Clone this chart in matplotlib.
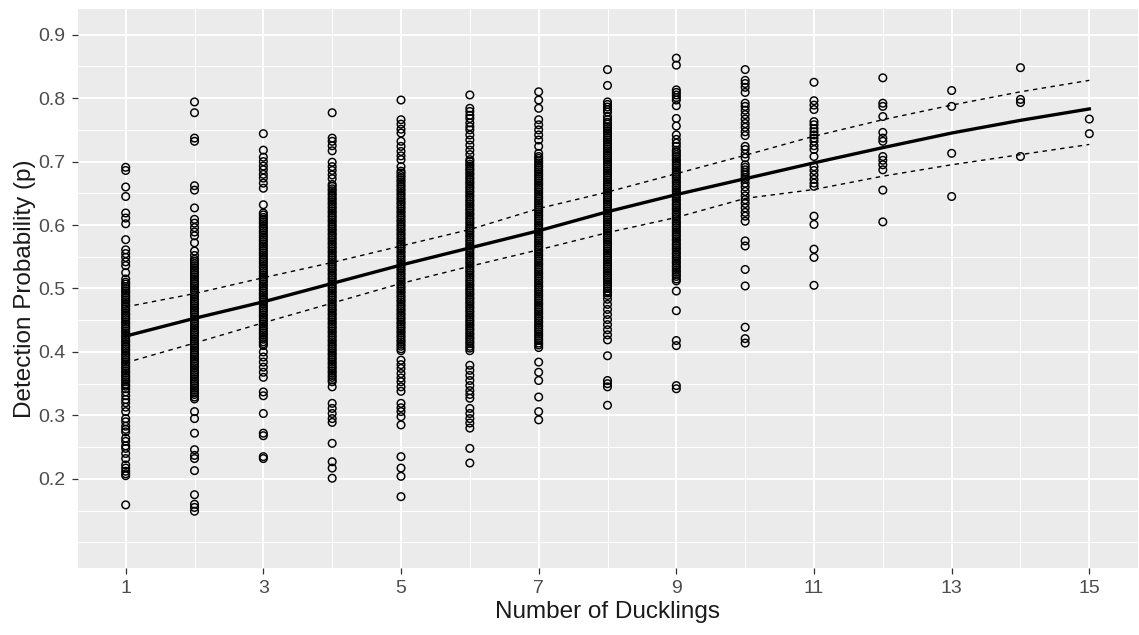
import numpy as np
import matplotlib
matplotlib.use("Agg")
import matplotlib.pyplot as plt
from matplotlib.ticker import FixedLocator

# ---------------- data ----------------
ducklings = [1, 2, 3, 4, 5, 6, 7, 8, 9, 10, 11, 12, 13, 14, 15]

p1 = [0.691, 0.686, 0.660, 0.645, 0.619, 0.611, 0.602, 0.577, 0.561, 0.555, 0.549, 0.542, 0.536, 0.525, 0.515,
      0.510, 0.507, 0.503, 0.500, 0.496, 0.493, 0.489, 0.486, 0.482, 0.479, 0.475, 0.472, 0.468, 0.465, 0.461,
      0.458, 0.454, 0.451, 0.447, 0.444, 0.440, 0.437, 0.433, 0.430, 0.426, 0.423, 0.419, 0.416, 0.412, 0.409,
      0.405, 0.402, 0.398, 0.395, 0.391, 0.388, 0.384, 0.381, 0.377, 0.374, 0.370, 0.367, 0.363, 0.360, 0.356,
      0.353, 0.349, 0.346, 0.342, 0.337, 0.331, 0.325, 0.320, 0.313, 0.306, 0.295, 0.290, 0.283, 0.278, 0.274,
      0.264, 0.259, 0.252, 0.248, 0.240, 0.232, 0.222, 0.217, 0.212, 0.208, 0.205, 0.159]

p2 = [0.794, 0.777, 0.737, 0.732, 0.662, 0.655, 0.627, 0.609, 0.603, 0.596, 0.589, 0.583, 0.572, 0.559, 0.552,
      0.546, 0.543, 0.539, 0.536, 0.532, 0.529, 0.525, 0.522, 0.518, 0.515, 0.511, 0.508, 0.504, 0.501, 0.497,
      0.494, 0.490, 0.487, 0.483, 0.480, 0.476, 0.473, 0.469, 0.466, 0.462, 0.459, 0.455, 0.452, 0.448, 0.445,
      0.441, 0.438, 0.434, 0.431, 0.427, 0.424, 0.420, 0.417, 0.413, 0.410, 0.406, 0.403, 0.399, 0.396, 0.392,
      0.389, 0.385, 0.382, 0.378, 0.375, 0.371, 0.368, 0.364, 0.361, 0.357, 0.354, 0.350, 0.347, 0.343, 0.340,
      0.336, 0.333, 0.329, 0.326, 0.306, 0.295, 0.272, 0.246, 0.237, 0.232, 0.213, 0.175, 0.160, 0.155, 0.149]

p3 = [0.744, 0.718, 0.707, 0.700, 0.693, 0.687, 0.680, 0.674, 0.666, 0.658, 0.632,
      0.619, 0.616, 0.612, 0.609, 0.605, 0.602, 0.598, 0.595, 0.591, 0.588, 0.584, 0.581, 0.577, 0.574, 0.570,
      0.567, 0.563, 0.560, 0.556, 0.553, 0.549, 0.546, 0.542, 0.539, 0.535, 0.532, 0.528, 0.525, 0.521, 0.518,
      0.514, 0.511, 0.507, 0.504, 0.500, 0.497, 0.493, 0.490, 0.486, 0.483, 0.479, 0.476, 0.472, 0.469, 0.465,
      0.462, 0.458, 0.455, 0.451, 0.448, 0.444, 0.441, 0.437, 0.434, 0.430, 0.427, 0.423, 0.420, 0.416, 0.413,
      0.410, 0.400, 0.392, 0.384, 0.376, 0.368, 0.360, 0.337, 0.331, 0.303, 0.272, 0.268, 0.235, 0.232]

p4 = [0.777, 0.737, 0.732, 0.725, 0.717, 0.699, 0.692, 0.686, 0.679, 0.673,
      0.664, 0.661, 0.657, 0.654, 0.650, 0.647, 0.643, 0.640, 0.636, 0.633, 0.629, 0.626, 0.622, 0.619, 0.615,
      0.612, 0.608, 0.605, 0.601, 0.598, 0.594, 0.591, 0.587, 0.584, 0.580, 0.577, 0.573, 0.570, 0.566, 0.563,
      0.559, 0.556, 0.552, 0.549, 0.545, 0.542, 0.538, 0.535, 0.531, 0.528, 0.524, 0.521, 0.517, 0.514, 0.510,
      0.507, 0.503, 0.500, 0.496, 0.493, 0.489, 0.486, 0.482, 0.479, 0.475, 0.472, 0.468, 0.465, 0.461, 0.458,
      0.454, 0.451, 0.447, 0.444, 0.440, 0.437, 0.433, 0.430, 0.426, 0.423, 0.419, 0.416, 0.412, 0.409, 0.405,
      0.402, 0.398, 0.395, 0.391, 0.388, 0.384, 0.381, 0.377, 0.374, 0.370, 0.367, 0.363, 0.360, 0.356, 0.353,
      0.345, 0.319, 0.311, 0.303, 0.295, 0.289, 0.256, 0.227, 0.217, 0.201]

p5 = [0.797, 0.766, 0.759, 0.751, 0.745, 0.732, 0.724, 0.716, 0.709, 0.703, 0.692,
      0.685, 0.682, 0.678, 0.675, 0.671, 0.668, 0.664, 0.661, 0.657, 0.654, 0.650, 0.647, 0.643, 0.640, 0.636,
      0.633, 0.629, 0.626, 0.622, 0.619, 0.615, 0.612, 0.608, 0.605, 0.601, 0.598, 0.594, 0.591, 0.587, 0.584,
      0.580, 0.577, 0.573, 0.570, 0.566, 0.563, 0.559, 0.556, 0.552, 0.549, 0.545, 0.542, 0.538, 0.535, 0.531,
      0.528, 0.524, 0.521, 0.517, 0.514, 0.510, 0.507, 0.503, 0.500, 0.496, 0.493, 0.489, 0.486, 0.482, 0.479,
      0.475, 0.472, 0.468, 0.465, 0.461, 0.458, 0.454, 0.451, 0.447, 0.444, 0.440, 0.437, 0.433, 0.430, 0.426,
      0.423, 0.419, 0.416, 0.412, 0.409, 0.405, 0.402,
      0.387, 0.380, 0.374, 0.366, 0.359, 0.353, 0.345, 0.338, 0.319, 0.312, 0.306, 0.298, 0.285, 0.235, 0.217,
      0.204, 0.172]

p6 = [0.805, 0.784, 0.779, 0.773, 0.768, 0.761, 0.755, 0.750, 0.742, 0.734, 0.726, 0.718, 0.711,
      0.703, 0.700, 0.696, 0.693, 0.689, 0.686, 0.682, 0.679, 0.675, 0.672, 0.668, 0.665, 0.661, 0.658, 0.654,
      0.651, 0.647, 0.644, 0.640, 0.637, 0.633, 0.630, 0.626, 0.623, 0.619, 0.616, 0.612, 0.609, 0.605, 0.602,
      0.598, 0.595, 0.591, 0.588, 0.584, 0.581, 0.577, 0.574, 0.570, 0.567, 0.563, 0.560, 0.556, 0.553, 0.549,
      0.546, 0.542, 0.539, 0.535, 0.532, 0.528, 0.525, 0.521, 0.518, 0.514, 0.511, 0.507, 0.504, 0.500, 0.497,
      0.493, 0.490, 0.486, 0.483, 0.479, 0.476, 0.472, 0.469, 0.465, 0.462, 0.458, 0.455, 0.451, 0.448, 0.444,
      0.441, 0.437, 0.434, 0.430, 0.427, 0.423, 0.420, 0.416, 0.413, 0.409, 0.406, 0.402,
      0.379, 0.371, 0.363, 0.355, 0.347, 0.339, 0.333, 0.327, 0.311, 0.303, 0.295, 0.288, 0.280, 0.248, 0.225]

p7 = [0.810, 0.797, 0.784, 0.766, 0.758, 0.750, 0.742, 0.734, 0.724, 0.713,
      0.708, 0.705, 0.701, 0.698, 0.694, 0.691, 0.687, 0.684, 0.680, 0.677, 0.673, 0.670, 0.666, 0.663, 0.659,
      0.656, 0.652, 0.649, 0.645, 0.642, 0.638, 0.635, 0.631, 0.628, 0.624, 0.621, 0.617, 0.614, 0.610, 0.607,
      0.603, 0.600, 0.596, 0.593, 0.589, 0.586, 0.582, 0.579, 0.575, 0.572, 0.568, 0.565, 0.561, 0.558, 0.554,
      0.551, 0.547, 0.544, 0.540, 0.537, 0.533, 0.530, 0.526, 0.523, 0.519, 0.516, 0.512, 0.509, 0.505, 0.502,
      0.498, 0.495, 0.491, 0.488, 0.484, 0.481, 0.477, 0.474, 0.470, 0.467, 0.463, 0.460, 0.456, 0.453, 0.449,
      0.446, 0.442, 0.439, 0.435, 0.432, 0.428, 0.425, 0.421, 0.418, 0.414, 0.411, 0.407,
      0.384, 0.368, 0.355, 0.329, 0.306, 0.293]

p8 = [0.845, 0.820, 0.794, 0.790, 0.786, 0.782, 0.778, 0.771, 0.766,
      0.762, 0.759, 0.755, 0.752, 0.748, 0.745, 0.741, 0.738, 0.734, 0.731, 0.727, 0.724, 0.720, 0.717, 0.713,
      0.710, 0.706, 0.703, 0.699, 0.696, 0.692, 0.689, 0.685, 0.682, 0.678, 0.675, 0.671, 0.668, 0.664, 0.661,
      0.657, 0.654, 0.650, 0.647, 0.643, 0.640, 0.636, 0.633, 0.629, 0.626, 0.622, 0.619, 0.615, 0.612, 0.608,
      0.605, 0.601, 0.598, 0.594, 0.591, 0.587, 0.584, 0.580, 0.577, 0.573, 0.570, 0.566, 0.563, 0.559, 0.556,
      0.552, 0.549, 0.545, 0.542, 0.538, 0.535, 0.531, 0.528, 0.524, 0.521, 0.517, 0.514, 0.510, 0.507, 0.503,
      0.500, 0.496, 0.493, 0.489,
      0.483, 0.475, 0.467, 0.459, 0.451, 0.443, 0.435, 0.427, 0.419, 0.394, 0.355, 0.350, 0.345, 0.316]

p9 = [0.863, 0.852, 0.813, 0.809, 0.805, 0.801, 0.797, 0.788, 0.768, 0.756, 0.742, 0.735, 0.729, 0.724,
      0.718, 0.715, 0.711, 0.708, 0.704, 0.701, 0.697, 0.694, 0.690, 0.687, 0.683, 0.680, 0.676, 0.673, 0.669,
      0.666, 0.662, 0.659, 0.655, 0.652, 0.648, 0.645, 0.641, 0.638, 0.634, 0.631, 0.627, 0.624, 0.620, 0.617,
      0.613, 0.610, 0.606, 0.603, 0.599, 0.596, 0.592, 0.589, 0.585, 0.582, 0.578, 0.575, 0.571, 0.568, 0.564,
      0.561, 0.557, 0.554, 0.550, 0.547, 0.543, 0.540, 0.536, 0.533, 0.529, 0.526, 0.522, 0.519, 0.515, 0.512,
      0.496, 0.465, 0.418, 0.410, 0.347, 0.342]

p10 = [0.845, 0.828, 0.823, 0.817, 0.809, 0.792, 0.787, 0.781, 0.774, 0.767, 0.760, 0.754, 0.747, 0.741,
       0.724, 0.719, 0.712, 0.706, 0.695, 0.691, 0.687, 0.683, 0.679, 0.675, 0.672, 0.666, 0.660, 0.653, 0.646,
       0.640, 0.634, 0.627, 0.620, 0.614, 0.606, 0.575, 0.567, 0.530, 0.504, 0.439, 0.421, 0.414]

p11 = [0.825, 0.796, 0.789, 0.782, 0.763, 0.758, 0.752, 0.747, 0.742, 0.737, 0.732, 0.725, 0.719, 0.708,
       0.692, 0.686, 0.679, 0.672, 0.666, 0.661, 0.614, 0.601, 0.562, 0.549, 0.505]

p12 = [0.832, 0.792, 0.787, 0.771, 0.746, 0.737, 0.732, 0.708, 0.702, 0.695, 0.687, 0.655, 0.605]

p13 = [0.812, 0.787, 0.713, 0.645]

p14 = [0.848, 0.798, 0.793, 0.708]

p15 = [0.767, 0.744]

# fitted curve and confidence band (read at each duckling count)
fit_x = [1, 2, 3, 4, 5, 6, 7, 8, 9, 10, 11, 12, 13, 14, 15]
fit_mid = [0.425, 0.453, 0.479, 0.508, 0.537, 0.564, 0.591, 0.621, 0.648, 0.673, 0.698, 0.722, 0.745, 0.765, 0.783]
fit_upper = [0.471, 0.492, 0.517, 0.541, 0.567, 0.593, 0.626, 0.652, 0.681, 0.710, 0.740, 0.766, 0.789, 0.810, 0.828]
fit_lower = [0.383, 0.414, 0.446, 0.477, 0.508, 0.535, 0.561, 0.588, 0.612, 0.642, 0.656, 0.677, 0.695, 0.711, 0.727]

x_ticks = [1, 3, 5, 7, 9, 11, 13, 15]
y_ticks = [0.2, 0.3, 0.4, 0.5, 0.6, 0.7, 0.8, 0.9]
y_tick_labels = ["0.2", "0.3", "0.4", "0.5", "0.6", "0.7", "0.8", "0.9"]
x_title = "Number of Ducklings"
y_title = "Detection Probability (p)"

# ---------------- plot ----------------
plt.rcParams['font.family'] = ['Liberation Sans', 'DejaVu Sans']

W, H = 1139, 635
fig = plt.figure(figsize=(W / 100, H / 100), dpi=100)
ax = fig.add_axes([77.5 / W, 67.3 / H, (1137.5 - 77.5) / W, (625.7 - 67.3) / H])

ax.set_facecolor('#EBEBEB')
for s in ax.spines.values():
    s.set_visible(False)

ax.set_xlim(0.3, 15.7)
ax.set_ylim(0.06, 0.94)

ax.xaxis.set_major_locator(FixedLocator(x_ticks))
ax.xaxis.set_minor_locator(FixedLocator([2, 4, 6, 8, 10, 12, 14]))
ax.yaxis.set_major_locator(FixedLocator(y_ticks))
ax.yaxis.set_minor_locator(FixedLocator([0.1, 0.15, 0.25, 0.35, 0.45, 0.55, 0.65, 0.75, 0.85]))
ax.set_xticklabels([str(v) for v in x_ticks])
ax.set_yticklabels(y_tick_labels)

ax.grid(which='major', color='white', linewidth=1.4)
ax.grid(which='minor', color='white', linewidth=0.7)
ax.set_axisbelow(True)

ax.tick_params(which='major', length=4, width=0.9, color='#333333',
               labelcolor='#4D4D4D', labelsize=14, pad=4.5)
ax.tick_params(which='minor', length=0)

all_p = [p1, p2, p3, p4, p5, p6, p7, p8, p9, p10, p11, p12, p13, p14, p15]
xs = np.concatenate([[d] * len(p) for d, p in zip(ducklings, all_p)])
ys = np.concatenate(all_p)
ax.scatter(xs, ys, s=30, facecolors='none', edgecolors='black', linewidths=1.05, zorder=3)

ax.plot(fit_x, fit_mid, color='black', linewidth=2.4, zorder=4)
ax.plot(fit_x, fit_upper, color='black', linewidth=1.0, dashes=(3.2, 3.2), zorder=4)
ax.plot(fit_x, fit_lower, color='black', linewidth=1.0, dashes=(3.2, 3.2), zorder=4)

ax.set_xlabel(x_title, fontsize=17.5, color='#1a1a1a', labelpad=3)
ax.set_ylabel(y_title, fontsize=17.5, color='#1a1a1a', labelpad=2)

fig.savefig('out.png', dpi=100)
